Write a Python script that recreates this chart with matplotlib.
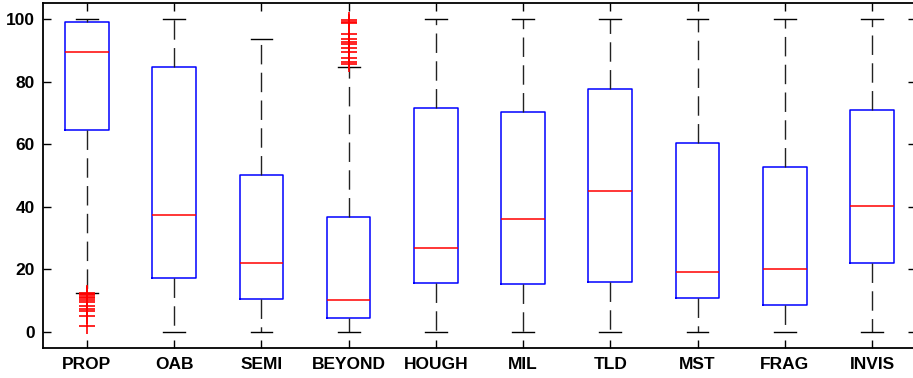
import matplotlib
matplotlib.use("Agg")
import matplotlib.pyplot as plt

labels = ["PROP", "OAB", "SEMI", "BEYOND", "HOUGH", "MIL", "TLD", "MST", "FRAG", "INVIS"]
whislo = [12.6, 0, 0, 0, 0, 0, 0, 0, 0, 0]
q1 = [64.6, 17.3, 10.6, 4.6, 15.7, 15.4, 16.1, 10.9, 8.7, 22.1]
med = [89.5, 37.4, 22.1, 10.3, 26.9, 36.2, 45.1, 19.2, 20.3, 40.3]
q3 = [99.0, 84.7, 50.2, 36.7, 71.6, 70.3, 77.7, 60.4, 52.8, 71.0]
whishi = [100, 100, 93.6, 84.8, 100, 100, 100, 100, 100, 100]
prop_out = [12.6, 12.2, 11.8, 11.3, 10.8, 10.3, 9.5, 8.4, 7.3, 6.6, 5.2, 2.0]
beyond_out = [99.8, 99.2, 98.6, 95.1, 93.5, 92.8, 92.0, 90.8, 89.6, 87.4, 86.4, 85.6]
outliers = [prop_out, [], [], beyond_out, [], [], [], [], [], []]

stats = []
for i in range(len(labels)):
    stats.append(dict(label=labels[i], whislo=whislo[i], q1=q1[i], med=med[i],
                      q3=q3[i], whishi=whishi[i], fliers=outliers[i]))

plt.rcParams['font.family'] = ['Liberation Sans', 'DejaVu Sans']
fig = plt.figure(figsize=(9.13, 3.78), dpi=100)
ax = fig.add_axes([0.0475, 0.080, 0.9553, 0.911])

ax.bxp(stats, positions=range(1, 11), widths=0.5, capwidths=0.25,
       boxprops=dict(color="blue", linewidth=1.1),
       medianprops=dict(color="red", linewidth=1.1),
       whiskerprops=dict(color="#222222", linewidth=1.0, linestyle=(0, (14, 6))),
       capprops=dict(color="black", linewidth=1.0),
       flierprops=dict(marker="+", markeredgecolor="red", markersize=11,
                       markeredgewidth=1.2, linestyle="none"))

ax.set_xlim(0.5, 10.5)
ax.set_ylim(-5, 105)
ax.set_yticks([0, 20, 40, 60, 80, 100])
ax.tick_params(direction="in", length=6, width=1.0, top=True, right=True,
               labelsize=12.5)
ax.tick_params(axis="x", pad=7)
ax.tick_params(axis="y", pad=6)
for lab in ax.get_xticklabels() + ax.get_yticklabels():
    lab.set_fontweight("bold")
for s in ax.spines.values():
    s.set_linewidth(1.3)

fig.savefig("out.png", dpi=100)
